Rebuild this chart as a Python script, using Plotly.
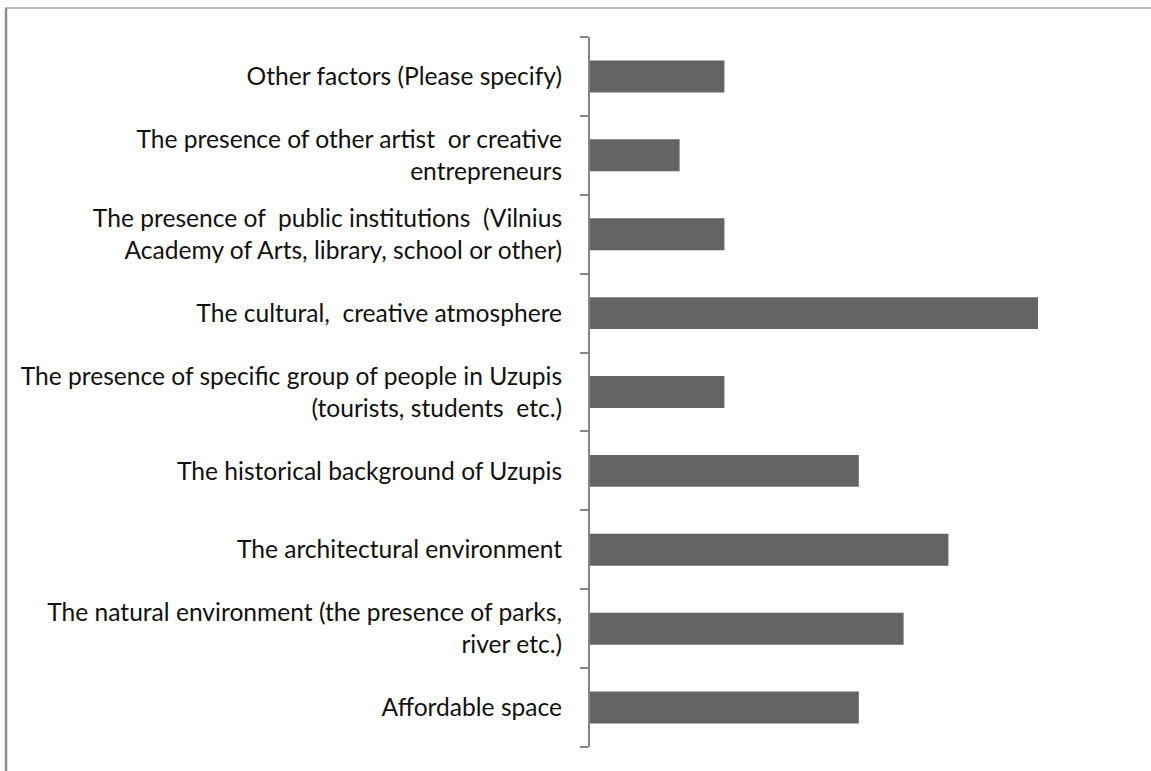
import plotly.graph_objects as go

categories = [
    "Affordable space",
    "The natural environment (the presence of parks,<br>river etc.)",
    "The architectural environment",
    "The historical background of Uzupis",
    "The presence of specific group of people in Uzupis<br>(tourists, students  etc.)",
    "The cultural,  creative atmosphere",
    "The presence of  public institutions  (Vilnius<br>Academy of Arts, library, school or other)",
    "The presence of other artist  or creative<br>entrepreneurs",
    "Other factors (Please specify)",
]
values = [6, 7, 8, 6, 3, 10, 3, 2, 3]

W, H = 1151, 771
L, R, T, B = 590, 1038, 37, 747

fig = go.Figure(go.Bar(
    x=values, y=categories, orientation="h",
    marker=dict(color="#646464", line=dict(width=0)),
))


def px_x(p):
    return (p - L) / (R - L)


def px_y(p):
    return (B - p) / (B - T)


fig.update_layout(
    width=W, height=H,
    margin=dict(l=L, r=W - R, t=T, b=H - B, pad=0),
    paper_bgcolor="white", plot_bgcolor="white",
    bargap=0.595,
    showlegend=False,
    font=dict(family="Lato", size=24.6, color="#111111"),
    xaxis=dict(range=[0, 10], visible=False, fixedrange=True),
    yaxis=dict(
        showline=True, linecolor="#868686", linewidth=2,
        ticks="outside", tickson="boundaries", ticklen=8, tickwidth=2, tickcolor="#868686",
        showgrid=False, zeroline=False, automargin=False,
        ticklabelstandoff=21,
    ),
    shapes=[
        dict(type="line", xref="paper", yref="paper", layer="above",
             x0=px_x(5), x1=px_x(W), y0=px_y(8), y1=px_y(8),
             line=dict(color="#bdbdbd", width=2)),
        dict(type="line", xref="paper", yref="paper", layer="above",
             x0=px_x(6), x1=px_x(6), y0=px_y(8), y1=px_y(H),
             line=dict(color="#8f8f8f", width=2.5)),
    ],
)

fig.write_html("out.html")
